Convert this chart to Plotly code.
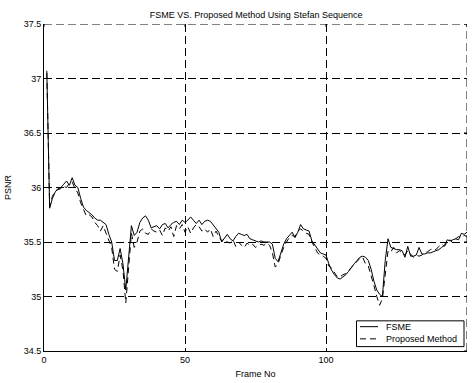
import plotly.graph_objects as go

frames = list(range(1, 151))

fsme = [
    37.07, 35.81, 35.90, 35.96, 35.99, 36.00, 36.03, 36.06, 36.02, 36.09,
    36.02, 36.00, 35.90, 35.82, 35.79, 35.77, 35.75, 35.72, 35.70, 35.70,
    35.68, 35.66, 35.57, 35.50, 35.33, 35.33, 35.44, 35.30, 35.06, 35.33,
    35.65, 35.56, 35.59, 35.68, 35.72, 35.74, 35.70, 35.63, 35.64, 35.65,
    35.62, 35.66, 35.67, 35.63, 35.66, 35.68, 35.69, 35.66, 35.70, 35.68,
    35.70, 35.73, 35.70, 35.67, 35.70, 35.66, 35.69, 35.70, 35.69, 35.66,
    35.62, 35.59, 35.50, 35.54, 35.57, 35.53, 35.51, 35.55, 35.58, 35.57,
    35.56, 35.57, 35.53, 35.52, 35.51, 35.50, 35.51, 35.50, 35.50, 35.50,
    35.48, 35.35, 35.32, 35.41, 35.48, 35.53, 35.56, 35.59, 35.54, 35.59,
    35.66, 35.62, 35.61, 35.60, 35.51, 35.47, 35.43, 35.40, 35.39, 35.38,
    35.30, 35.24, 35.20, 35.17, 35.16, 35.18, 35.20, 35.23, 35.27, 35.30,
    35.33, 35.36, 35.37, 35.36, 35.33, 35.25, 35.14, 35.06, 35.02, 35.00,
    35.33, 35.53, 35.45, 35.44, 35.43, 35.43, 35.42, 35.36, 35.46, 35.37,
    35.37, 35.38, 35.45, 35.39, 35.39, 35.40, 35.40, 35.41, 35.42, 35.43,
    35.45, 35.47, 35.52, 35.51, 35.52, 35.53, 35.52, 35.58, 35.57, 35.59,
]

proposed = [
    37.05, 35.83, 35.92, 35.97, 35.98, 35.99, 36.01, 36.00, 36.04, 36.05,
    35.99, 35.95, 35.86, 35.80, 35.74, 35.75, 35.73, 35.68, 35.65, 35.60,
    35.65, 35.58, 35.52, 35.45, 35.25, 35.23, 35.38, 35.24, 34.94, 35.25,
    35.58, 35.45, 35.50, 35.60, 35.62, 35.58, 35.57, 35.62, 35.60, 35.59,
    35.61, 35.56, 35.63, 35.60, 35.64, 35.55, 35.65, 35.62, 35.66, 35.59,
    35.64, 35.58, 35.63, 35.66, 35.64, 35.60, 35.62, 35.59, 35.62, 35.55,
    35.60, 35.55, 35.51, 35.53, 35.50, 35.49, 35.52, 35.46, 35.50, 35.47,
    35.45, 35.49, 35.47, 35.48, 35.45, 35.47, 35.48, 35.47, 35.49, 35.47,
    35.40, 35.27, 35.30, 35.38, 35.45, 35.50, 35.54, 35.56, 35.55, 35.60,
    35.62, 35.60, 35.58, 35.57, 35.50, 35.45, 35.40, 35.38, 35.37, 35.35,
    35.28, 35.26, 35.22, 35.18, 35.18, 35.20, 35.21, 35.24, 35.27, 35.30,
    35.32, 35.35, 35.36, 35.30, 35.28, 35.20, 35.10, 35.00, 34.92, 34.98,
    35.18, 35.42, 35.41, 35.45, 35.40, 35.42, 35.40, 35.38, 35.42, 35.39,
    35.36, 35.38, 35.37, 35.38, 35.40, 35.41, 35.43, 35.44, 35.43, 35.46,
    35.48, 35.46, 35.50, 35.52, 35.49, 35.53, 35.55, 35.54, 35.56, 35.55,
]

series_names = ["FSME", "Proposed Method"]
x_ticks = [0, 50, 100, 150]
y_ticks = [34.5, 35, 35.5, 36, 36.5, 37, 37.5]
y_labels = ["34.5", "35", "35.5", "36", "36.5", "37", "37.5"]

FONT = "Liberation Sans, Arial, Helvetica, sans-serif"
GRID_DASH = "8px,4px"
LINE_DASH = "6px,4px"
TICKLEN = 3

# plot-area geometry in pixels (for the hand-drawn legend and mirrored ticks)
W, H = 473, 383
ML, MR, MT, MB = 44, 6, 24, 23
PW, PH = W - ML - MR, H - MT - MB


def px(xp):
    return (xp - ML) / PW


def py(yp):
    return (H - MB - yp) / PH


fig = go.Figure()
fig.add_trace(go.Scatter(x=frames, y=fsme, mode="lines", name=series_names[0],
                         line=dict(color="black", width=1)))
fig.add_trace(go.Scatter(x=frames, y=proposed, mode="lines", name=series_names[1],
                         line=dict(color="black", width=1, dash=LINE_DASH)))

shapes = [
    # top and right grid lines (at range edges)
    dict(type="line", xref="paper", yref="y", x0=0, x1=1, y0=y_ticks[-1], y1=y_ticks[-1],
         line=dict(color="black", width=1, dash=GRID_DASH)),
    dict(type="line", xref="x", yref="paper", x0=x_ticks[-1], x1=x_ticks[-1], y0=0, y1=1,
         line=dict(color="black", width=1, dash=GRID_DASH)),
]
# mirrored tick marks on top and right edges
for t in x_ticks:
    shapes.append(dict(type="line", xref="x", yref="paper", x0=t, x1=t,
                       y0=1, y1=1 - TICKLEN / PH, line=dict(color="black", width=1)))
for t in y_ticks:
    shapes.append(dict(type="line", xref="paper", yref="y", x0=1, x1=1 - TICKLEN / PW,
                       y0=t, y1=t, line=dict(color="black", width=1)))
# legend box and samples
shapes += [
    dict(type="rect", xref="paper", yref="paper", x0=px(356.5), x1=px(464), y0=py(355.5), y1=py(329),
         line=dict(color="black", width=1), fillcolor="white", layer="above"),
    dict(type="line", xref="paper", yref="paper", x0=px(360), x1=px(378), y0=py(335), y1=py(335),
         line=dict(color="black", width=1), layer="above"),
    dict(type="line", xref="paper", yref="paper", x0=px(360), x1=px(380), y0=py(347.5), y1=py(347.5),
         line=dict(color="black", width=1, dash="6px,4px"), layer="above"),
]

annotations = [
    dict(xref="paper", yref="paper", x=px(384), y=py(335), text=series_names[0],
         showarrow=False, xanchor="left", yanchor="middle", font=dict(size=9)),
    dict(xref="paper", yref="paper", x=px(384), y=py(347.5), text=series_names[1],
         showarrow=False, xanchor="left", yanchor="middle", font=dict(size=9)),
]

fig.update_layout(
    width=W, height=H,
    margin=dict(l=ML, r=MR, t=MT, b=MB),
    paper_bgcolor="white", plot_bgcolor="white",
    font=dict(family=FONT, size=9, color="black"),
    title=dict(text="FSME VS. Proposed Method Using Stefan Sequence",
               x=0.5415, xanchor="center", y=1 - 15 / H, yanchor="middle",
               font=dict(size=9)),
    showlegend=False,
    shapes=shapes,
    annotations=annotations,
)
fig.update_xaxes(range=[0, 150], tickvals=x_ticks, ticktext=[str(v) for v in x_ticks],
                 showgrid=True, gridcolor="black", gridwidth=1, griddash=GRID_DASH,
                 showline=True, linecolor="black", linewidth=1,
                 ticks="inside", ticklen=TICKLEN, tickcolor="black",
                 tickfont=dict(size=9),
                 zeroline=False,
                 title=dict(text="Frame No", standoff=6, font=dict(size=9)))
fig.update_yaxes(range=[34.5, 37.5], tickvals=y_ticks, ticktext=y_labels,
                 showgrid=True, gridcolor="black", gridwidth=1, griddash=GRID_DASH,
                 showline=True, linecolor="black", linewidth=1,
                 ticks="inside", ticklen=TICKLEN, tickcolor="black",
                 tickfont=dict(size=9),
                 zeroline=False,
                 title=dict(text="PSNR", standoff=10, font=dict(size=9)))

fig.write_html("out.html")
